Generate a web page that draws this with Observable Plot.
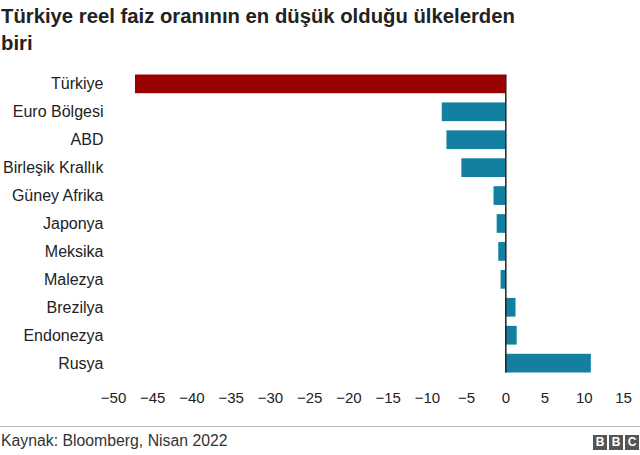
<!DOCTYPE html>
<html>
<head>
<meta charset="utf-8">
<script src="https://cdn.jsdelivr.net/npm/d3@7"></script>
<script src="https://cdn.jsdelivr.net/npm/@observablehq/plot@0.6"></script>
<style>
  html, body { margin: 0; padding: 0; background: #fff; }
  body { width: 640px; height: 455px; position: relative; overflow: hidden; font-family: "Liberation Sans", Arial, Helvetica, sans-serif; color: #222; }
  #title { position: absolute; left: 1px; top: 3px; width: 540px; font-size: 20.3px; font-weight: bold; line-height: 27px; color: #222; margin: 0; }
  #chart { position: absolute; left: 0; top: 60px; }
  #footer { position: absolute; left: 0; top: 426px; width: 640px; border-top: 1px solid #bbb; }
  #source { position: absolute; left: 1px; top: 5px; font-size: 15.8px; color: #333; white-space: nowrap; }
  #logo { position: absolute; right: 1px; top: 8px; display: flex; gap: 2px; }
  #logo span { display: block; width: 14px; height: 15px; background: #555; color: #fff; font: bold 12px/15px "Liberation Sans", Arial, sans-serif; text-align: center; }
</style>
</head>
<body>
<div id="title">Türkiye reel faiz oranının en düşük olduğu ülkelerden biri</div>
<div id="chart"></div>
<div id="footer">
  <div id="source">Kaynak: Bloomberg, Nisan 2022</div>
  <div id="logo"><span>B</span><span>B</span><span>C</span></div>
</div>
<script>
const countries = ["Türkiye", "Euro Bölgesi", "ABD", "Birleşik Krallık", "Güney Afrika", "Japonya", "Meksika", "Malezya", "Brezilya", "Endonezya", "Rusya"];
const realRates = [-47.2, -8.1, -7.5, -5.6, -1.5, -1.1, -0.9, -0.6, 1.3, 1.45, 10.9];
const xTicks = [-50, -45, -40, -35, -30, -25, -20, -15, -10, -5, 0, 5, 10, 15];
const highlight = "Türkiye";
const red = "#990000";
const blue = "#1380A1";

const data = countries.map((c, i) => ({country: c, value: realRates[i]}));

const chart = Plot.plot({
  width: 640,
  height: 360,
  marginLeft: 113,
  marginRight: 17,
  marginTop: 14.5,
  marginBottom: 47.5,
  style: {fontFamily: '"Liberation Sans", Arial, Helvetica, sans-serif', color: "#222", background: "#fff"},
  x: {domain: [-50, 15], ticks: xTicks},
  y: {domain: countries, paddingInner: 0.33, paddingOuter: 0, round: false},
  marks: [
    Plot.barX(data, {x: "value", y: "country", fill: d => d.country === highlight ? red : blue}),
    Plot.ruleX([0], {stroke: "#222", strokeWidth: 1.5}),
    Plot.axisX({ticks: xTicks, tickSize: 0, tickPadding: 19, fontSize: 15, label: null}),
    Plot.axisY({tickSize: 0, tickPadding: 10, fontSize: 16, label: null})
  ]
});
document.getElementById("chart").appendChild(chart);
</script>
</body>
</html>
